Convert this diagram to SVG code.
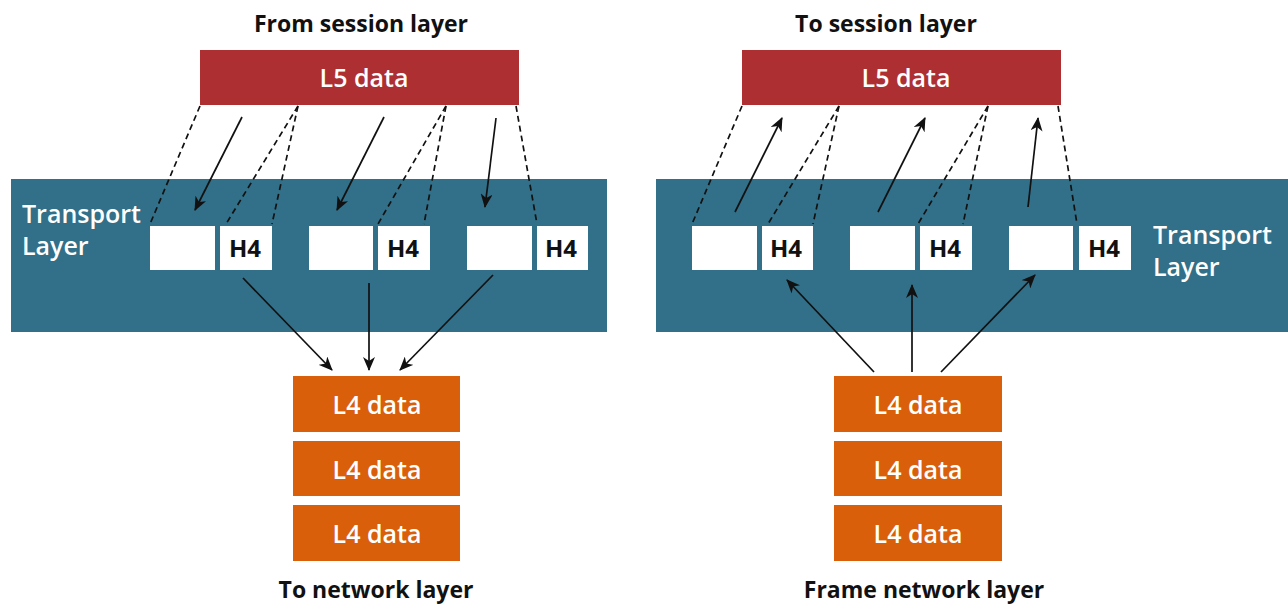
<svg xmlns="http://www.w3.org/2000/svg" width="1288" height="605" viewBox="0 0 1288 605">
<style>
.title{font-family:"Open Sans","Liberation Sans",sans-serif;font-weight:700;font-size:23px;fill:#111;text-anchor:middle}
.l5{fill:#ad2f32}
.l5t{font-family:"Open Sans","Liberation Sans",sans-serif;font-weight:600;font-size:25px;fill:#fff;text-anchor:middle}
.band{fill:#326f88}
.bandt{font-family:"Open Sans","Liberation Sans",sans-serif;font-weight:600;font-size:25px;fill:#fff}
.wb{fill:#fff}
.h4{font-family:"Open Sans","Liberation Sans",sans-serif;font-weight:700;font-size:24px;fill:#111;text-anchor:middle}
.l4{fill:#d95f0b}
.l4t{font-family:"Open Sans","Liberation Sans",sans-serif;font-weight:600;font-size:25px;fill:#fff;text-anchor:middle}
.dash{stroke:#111;stroke-width:1.7;stroke-dasharray:6 4;fill:none}
.arr{stroke:#111;stroke-width:1.7;fill:none;marker-end:url(#ah)}
</style>
<defs>
<marker id="ah" viewBox="0 0 14 12" refX="13" refY="6" markerWidth="14" markerHeight="12" markerUnits="userSpaceOnUse" orient="auto">
<path d="M0,0 L14,6 L0,12 L4,6 Z" fill="#111"/>
</marker>
</defs>
<rect width="1288" height="605" fill="#fff"/>

<g id="left-titles">
<text class="title" x="361" y="32">From session layer</text>
<text class="title" x="376" y="598">To network layer</text>
</g>
<g id="right-titles">
<text class="title" x="886" y="32">To session layer</text>
<text class="title" x="924" y="598">Frame network layer</text>
</g>

<g id="left-band">
<rect class="band" x="11" y="179" width="596" height="153"/>
<text class="bandt" x="22" y="223">Transport</text>
<text class="bandt" x="22" y="255">Layer</text>
</g>
<g id="right-band">
<rect class="band" x="656" y="179" width="632" height="153"/>
<text class="bandt" x="1153" y="244">Transport</text>
<text class="bandt" x="1153" y="276">Layer</text>
</g>

<g id="left-l5">
<rect class="l5" x="200" y="50" width="319" height="55"/>
<text class="l5t" x="364" y="87">L5 data</text>
</g>
<g id="right-l5">
<rect class="l5" x="742" y="50" width="319" height="55"/>
<text class="l5t" x="906" y="87">L5 data</text>
</g>

<g id="left-segments">
<rect class="wb" x="150" y="226" width="65" height="44"/>
<rect class="wb" x="220" y="226" width="52" height="44"/>
<text class="h4" x="245" y="257">H4</text>
<rect class="wb" x="309" y="226" width="64" height="44"/>
<rect class="wb" x="378" y="226" width="52" height="44"/>
<text class="h4" x="403" y="257">H4</text>
<rect class="wb" x="467" y="226" width="65" height="44"/>
<rect class="wb" x="537" y="226" width="51" height="44"/>
<text class="h4" x="561" y="257">H4</text>
</g>
<g id="right-segments">
<rect class="wb" x="692" y="226" width="65" height="44"/>
<rect class="wb" x="762" y="226" width="51" height="44"/>
<text class="h4" x="786" y="257">H4</text>
<rect class="wb" x="850" y="226" width="65" height="44"/>
<rect class="wb" x="920" y="226" width="52" height="44"/>
<text class="h4" x="945" y="257">H4</text>
<rect class="wb" x="1009" y="226" width="64" height="44"/>
<rect class="wb" x="1079" y="226" width="52" height="44"/>
<text class="h4" x="1104" y="257">H4</text>
</g>

<g id="left-l4">
<rect class="l4" x="293" y="376" width="167" height="56"/>
<text class="l4t" x="377" y="414">L4 data</text>
<rect class="l4" x="293" y="441" width="167" height="55"/>
<text class="l4t" x="377" y="479">L4 data</text>
<rect class="l4" x="293" y="505" width="167" height="56"/>
<text class="l4t" x="377" y="543">L4 data</text>
</g>
<g id="right-l4">
<rect class="l4" x="834" y="376" width="168" height="56"/>
<text class="l4t" x="918" y="414">L4 data</text>
<rect class="l4" x="834" y="441" width="168" height="55"/>
<text class="l4t" x="918" y="479">L4 data</text>
<rect class="l4" x="834" y="505" width="168" height="56"/>
<text class="l4t" x="918" y="543">L4 data</text>
</g>

<g id="connectors">
<line class="dash" x1="200" y1="106" x2="150" y2="224"/>
<line class="dash" x1="298" y1="106" x2="226" y2="224"/>
<line class="dash" x1="298" y1="106" x2="272" y2="224"/>
<line class="dash" x1="446" y1="106" x2="378" y2="224"/>
<line class="dash" x1="446" y1="106" x2="424" y2="224"/>
<line class="dash" x1="516" y1="106" x2="537" y2="224"/>
<line class="arr" x1="242" y1="117" x2="195" y2="210"/>
<line class="arr" x1="384" y1="117" x2="337" y2="210"/>
<line class="arr" x1="496" y1="118" x2="485" y2="207"/>
<line class="arr" x1="243" y1="278" x2="332" y2="370"/>
<line class="arr" x1="369" y1="283" x2="369" y2="370"/>
<line class="arr" x1="493" y1="275" x2="400" y2="370"/>

<line class="dash" x1="742" y1="106" x2="692" y2="224"/>
<line class="dash" x1="839" y1="106" x2="768" y2="224"/>
<line class="dash" x1="839" y1="106" x2="813" y2="224"/>
<line class="dash" x1="988" y1="106" x2="918" y2="224"/>
<line class="dash" x1="988" y1="106" x2="963" y2="224"/>
<line class="dash" x1="1058" y1="106" x2="1077" y2="224"/>
<line class="arr" x1="735" y1="212" x2="782" y2="118"/>
<line class="arr" x1="878" y1="212" x2="925" y2="118"/>
<line class="arr" x1="1028" y1="207" x2="1038" y2="118"/>
<line class="arr" x1="874" y1="372" x2="787" y2="280"/>
<line class="arr" x1="912" y1="372" x2="912" y2="285"/>
<line class="arr" x1="941" y1="372" x2="1035" y2="275"/>
</g>
</svg>
